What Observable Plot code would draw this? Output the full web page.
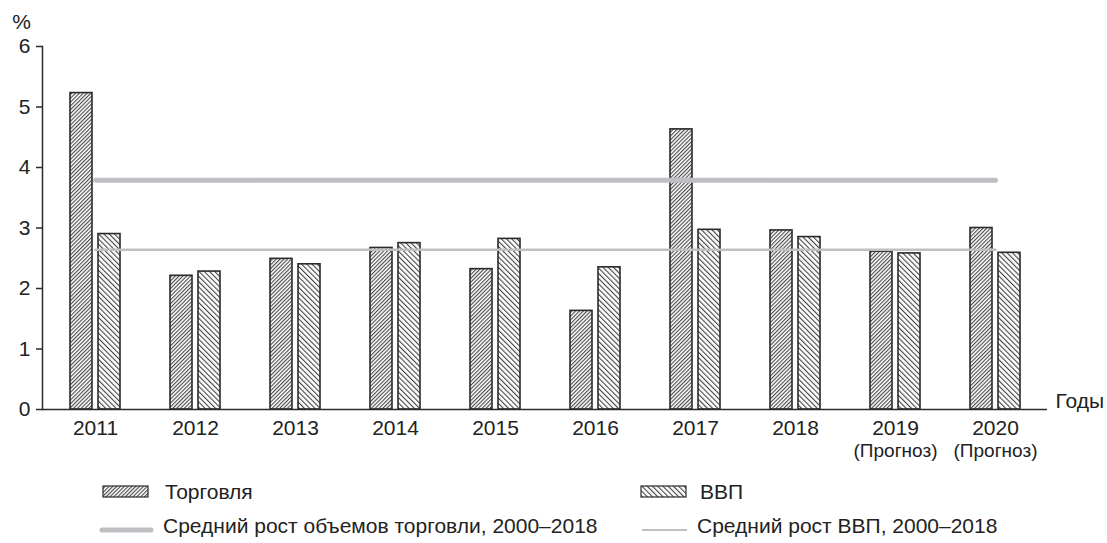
<!DOCTYPE html>
<html><head><meta charset="utf-8">
<script src="https://cdn.jsdelivr.net/npm/d3@7"></script>
<script src="https://cdn.jsdelivr.net/npm/@observablehq/plot@0.6"></script>
<style>
body{margin:0;background:#fff;font-family:"Liberation Sans",Arial,sans-serif;color:#222}
#wrap{position:relative;width:1107px;height:543px;overflow:hidden}
.lg{position:absolute;font-size:21px;line-height:1;white-space:nowrap;color:#222}
.sw{position:absolute}
</style></head><body>
<svg width="0" height="0" style="position:absolute"><defs>
<pattern id="hTrade" patternUnits="userSpaceOnUse" width="2.7" height="10" patternTransform="rotate(45)"><rect width="2.7" height="10" fill="#fff"/><line x1="0.6" y1="0" x2="0.6" y2="10" stroke="#2a2a2a" stroke-width="0.95"/></pattern>
<pattern id="hGdp" patternUnits="userSpaceOnUse" width="3.7" height="10" patternTransform="rotate(-45)"><rect width="3.7" height="10" fill="#fff"/><line x1="0.6" y1="0" x2="0.6" y2="10" stroke="#262626" stroke-width="0.95"/></pattern>
</defs></svg>
<div id="wrap"></div>
<script>
// ---- data ----
const years = ["2011","2012","2013","2014","2015","2016","2017","2018","2019","2020"];
const tickLabels = ["2011","2012","2013","2014","2015","2016","2017","2018","2019\n(Прогноз)","2020\n(Прогноз)"];
const trade = [5.23, 2.21, 2.49, 2.67, 2.32, 1.63, 4.63, 2.96, 2.61, 3.00];
const gdp   = [2.90, 2.28, 2.40, 2.75, 2.82, 2.35, 2.97, 2.85, 2.58, 2.59];
const tradeAvg = 3.79;
const gdpAvg = 2.64;
const yTicks = [0,1,2,3,4,5,6];
const seriesNames = ["Торговля","ВВП"];
const avgNames = ["Средний рост объемов торговли, 2000–2018","Средний рост ВВП, 2000–2018"];
const yUnit = "%";
const xUnit = "Годы";

const rows = years.map((y, i) => ({year: y, trade: trade[i], gdp: gdp[i]}));
const labelOf = new Map(years.map((y, i) => [y, tickLabels[i]]));

const lineGray = "#bfbfc3";
const ink = "#2a2a2a";

const chart = Plot.plot({
  width: 1107,
  height: 470,
  marginLeft: 42,
  marginRight: 60,
  marginTop: 46,
  marginBottom: 61,
  style: {fontFamily: "'Liberation Sans', Arial, sans-serif", fontSize: "21px", color: "#222", background: "transparent"},
  x: {type: "band", domain: years, paddingInner: 0.5, paddingOuter: 0.25, label: null},
  y: {domain: [0, 6], label: null},
  marks: [
    Plot.barY(rows, {x: "year", y: "trade", fill: "url(#hTrade)", stroke: ink, strokeWidth: 1.6, insetRight: 28}),
    Plot.barY(rows, {x: "year", y: "gdp", fill: "url(#hGdp)", stroke: ink, strokeWidth: 1.6, insetLeft: 28}),
    Plot.lineY(years, {x: d => d, y: () => tradeAvg, stroke: lineGray, strokeWidth: 5}),
    Plot.lineY(years, {x: d => d, y: () => gdpAvg, stroke: lineGray, strokeWidth: 2.5}),
    Plot.axisY({ticks: yTicks, tickSize: 6, tickPadding: 6, tickFormat: d => String(d), stroke: ink, strokeWidth: 1.5, label: null}),
    Plot.axisX({tickSize: 0, tickPadding: 11, tickFormat: d => labelOf.get(d), label: null}),
    Plot.ruleY([0], {stroke: ink, strokeWidth: 1.5}),
    Plot.frame({anchor: "left", stroke: ink, strokeWidth: 1.5}),
    Plot.text([yUnit], {frameAnchor: "top-left", text: d => d, dx: -21, dy: -24, textAnchor: "middle", lineAnchor: "middle"}),
    Plot.text([xUnit], {frameAnchor: "bottom-right", text: d => d, dx: 8, dy: -8, textAnchor: "start", lineAnchor: "middle"})
  ]
});

// second line of two-line tick labels: a bit smaller, placed just below the year
d3.select(chart).selectAll('g[aria-label="x-axis tick label"] text').each(function() {
  const t = d3.select(this).selectAll("tspan");
  if (t.size() > 1) t.filter((d, i) => i > 0).style("font-size", "19px").attr("dy", 22);
});

const wrap = document.getElementById("wrap");
wrap.appendChild(chart);

// ---- legend ----
function swatchRect(x, y, pat) {
  const s = d3.create("svg").attr("class", "sw").attr("width", 47).attr("height", 13)
    .style("left", (x - 1) + "px").style("top", (y - 1) + "px");
  s.append("rect").attr("x", 1).attr("y", 1).attr("width", 45).attr("height", 11)
    .attr("fill", `url(#${pat})`).attr("stroke", ink).attr("stroke-width", 1.2);
  wrap.appendChild(s.node());
}
function swatchLine(x1, x2, y, w) {
  const s = d3.create("svg").attr("class", "sw").attr("width", x2 - x1 + 8).attr("height", 12)
    .style("left", (x1 - 4) + "px").style("top", (y - 6) + "px");
  s.append("line").attr("x1", 4).attr("x2", x2 - x1 + 4).attr("y1", 6).attr("y2", 6)
    .attr("stroke", lineGray).attr("stroke-width", w).attr("stroke-linecap", w > 3 ? "round" : "butt");
  wrap.appendChild(s.node());
}
function label(x, top, txt) {
  const d = document.createElement("div");
  d.className = "lg"; d.style.left = x + "px"; d.style.top = top + "px"; d.textContent = txt;
  wrap.appendChild(d);
}
swatchRect(103, 486, "hTrade");
label(165, 481, seriesNames[0]);
swatchRect(641, 486, "hGdp");
label(700, 481, seriesNames[1]);
swatchLine(102, 151, 530, 5);
label(163, 515, avgNames[0]);
swatchLine(642, 687, 530, 2);
label(697, 515, avgNames[1]);
</script>
</body></html>
